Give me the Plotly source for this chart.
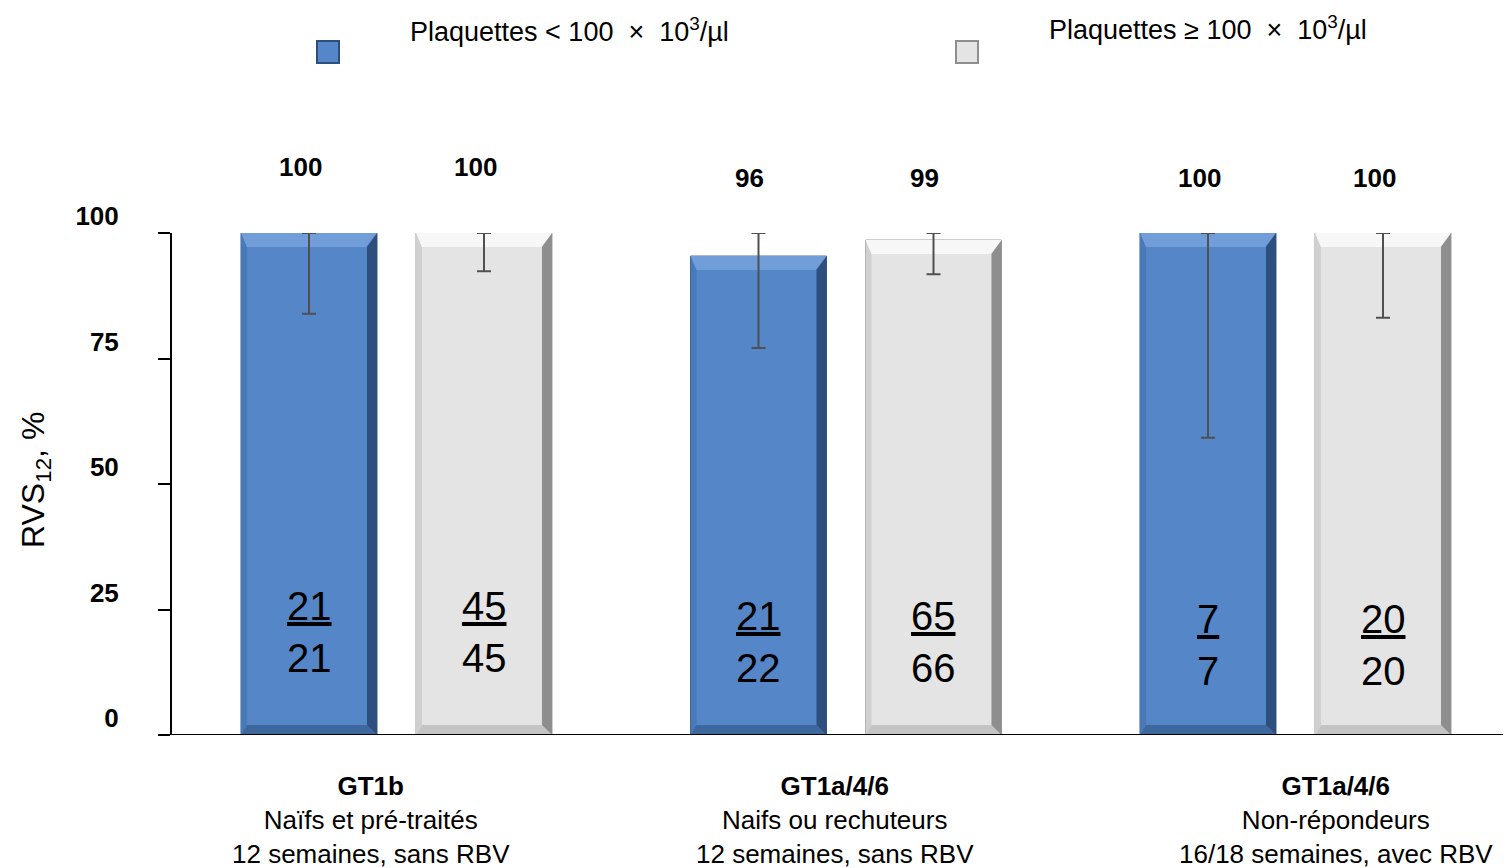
import plotly.graph_objects as go

# ---- data ----
groups = ["GT1b", "GT1a/4/6", "GT1a/4/6"]
group_sub1 = ["Naïfs et pré-traités", "Naifs ou rechuteurs", "Non-répondeurs"]
group_sub2 = ["12 semaines, sans RBV", "12 semaines, sans RBV", "16/18 semaines, avec RBV"]
series_names = ["Plaquettes < 100 \u00a0×\u00a0 10<sup>3</sup>/µl",
                "Plaquettes ≥ 100 \u00a0×\u00a0 10<sup>3</sup>/µl"]
low_values = [100, 95.4, 100]
high_values = [100, 98.6, 100]
low_labels = ["100", "96", "100"]
high_labels = ["100", "99", "100"]
low_ci_lower = [83.9, 77.1, 59.2]
high_ci_lower = [92.4, 91.8, 83.1]
ci_upper = [100, 100, 100]
low_num = [21, 21, 7]
low_den = [21, 22, 7]
high_num = [45, 65, 20]
high_den = [45, 66, 20]
y_ticks = [0, 25, 50, 75, 100]

# ---- style ----
OFF = 8                      # page body margin
W, H = 1511 - OFF, 868 - OFF
L, R, T, B = 172 - OFF, 0, 233 - OFF, 133
FONT = "Liberation Sans, Arial, sans-serif"
blue, blue_edge = "#5586C7", "#35598A"
grey, grey_edge = "#E4E4E4", "#9A9A9A"
bevel_cols = {
    blue: dict(top="#719DD9", right="#2E4F7E", bottom="#3E679E", left="#4A79B8"),
    grey: dict(top="#F7F7F7", right="#8E8E8E", bottom="#C4C4C4", left="#D0D0D0"),
}
err_col = "#505050"
value_label_y = [113.1, 111.0, 111.0]
frac_y = [20.5, 18.5, 18.0]
cat_xshift = [-26, -11, 40]

x = list(range(len(groups)))
gc = 396.5 - OFF
unit = 449.5
pw, ph = W - L - R, H - T - B
y_lo, y_hi = 0, 100
ypx = ph / (y_hi - y_lo)

bargap, bargroupgap = 0.2214, 0.223
slot = (1 - bargap) / 2
offs = [-slot / 2, slot / 2]
half_w = slot * (1 - bargroupgap) / 2

fig = go.Figure()
series = [
    (low_values, low_ci_lower, blue, blue_edge, series_names[0]),
    (high_values, high_ci_lower, grey, grey_edge, series_names[1]),
]
# bars
for vals, lo, col, edge, name in series:
    fig.add_trace(go.Bar(
        x=x, y=vals, name=name,
        marker=dict(color=col, line=dict(color=edge, width=1)),
        cliponaxis=False, showlegend=False, hoverinfo="skip",
    ))

# bevel polygons (derived from bar values)
bt, br, bb, bl = 14 / ypx, 10 / unit, 10 / ypx, 6 / unit   # top, right, bottom, left
btx = 11 / unit
for k, (vals, lo, col, edge, name) in enumerate(series):
    polys = {"top": ([], []), "right": ([], []), "bottom": ([], []), "left": ([], [])}
    for i in x:
        xc = i + offs[k]
        x0, x1, v = xc - half_w, xc + half_w, vals[i]
        parts = {
            "top": ([x0, x1, x1 - btx, x0 + bl, x0], [v, v, v - bt, v - bt, v]),
            "right": ([x1, x1, x1 - br, x1 - br, x1], [v, 0, bb, v - bt, v]),
            "bottom": ([x0, x1, x1 - br, x0 + bl, x0], [0, 0, bb, bb, 0]),
            "left": ([x0, x0, x0 + bl, x0 + bl, x0], [0, v, v - bt, bb, 0]),
        }
        for key, (px_, py_) in parts.items():
            polys[key][0].extend(px_ + [None])
            polys[key][1].extend(py_ + [None])
    for key in ["left", "bottom", "right", "top"]:
        fig.add_trace(go.Scatter(
            x=polys[key][0], y=polys[key][1], mode="lines", fill="toself",
            fillcolor=bevel_cols[col][key], line=dict(width=0),
            showlegend=False, hoverinfo="skip", cliponaxis=False))

# error bars on top
for k, (vals, lo, col, edge, name) in enumerate(series):
    fig.add_trace(go.Scatter(
        x=[i + offs[k] for i in x], y=vals, mode="markers",
        marker=dict(size=1, color="rgba(0,0,0,0)"),
        error_y=dict(type="data", symmetric=False,
                     array=[u - v for u, v in zip(ci_upper, vals)],
                     arrayminus=[v - l for v, l in zip(vals, lo)],
                     color=err_col, thickness=2, width=7),
        showlegend=False, hoverinfo="skip", cliponaxis=False))

def px(xp):
    return (xp - OFF - L) / pw
def py(yp):
    return (H - B - (yp - OFF)) / ph
def yval_paper(v):
    return (v - y_lo) / (y_hi - y_lo)

anns = []
for i in x:
    for k, (labs, nums, dens) in enumerate([(low_labels, low_num, low_den),
                                            (high_labels, high_num, high_den)]):
        xc = i + offs[k]
        anns.append(dict(x=xc, y=yval_paper(value_label_y[i]), xref="x", yref="paper",
                         yanchor="middle",
                         text=f"<b>{labs[i]}</b>", showarrow=False, xshift=-9,
                         font=dict(family=FONT, size=26, color="black")))
        anns.append(dict(x=xc, y=frac_y[i], xref="x", yref="y",
                         text=f"<u>{nums[i]}</u><br>{dens[i]}", showarrow=False,
                         font=dict(family=FONT, size=40, color="black")))
    anns.append(dict(x=i, y=0, xref="x", yref="y", yanchor="top", yshift=-34,
                     xshift=cat_xshift[i],
                     text=f"<b>{groups[i]}</b><br>{group_sub1[i]}<br>{group_sub2[i]}",
                     showarrow=False,
                     font=dict(family=FONT, size=26, color="black")))

shapes = []
for (mx, my, tx, ty), col, edge, name in [
    ((328, 52, 408, 30), blue, blue_edge, series_names[0]),
    ((967, 52, 1047, 28), grey, grey_edge, series_names[1]),
]:
    shapes.append(dict(type="rect", xref="paper", yref="paper",
                       x0=px(mx - 11), x1=px(mx + 11), y0=py(my + 11), y1=py(my - 11),
                       fillcolor=col, line=dict(color=bevel_cols[col]["right"], width=2)))
    anns.append(dict(x=px(tx), y=py(ty), xref="paper", yref="paper",
                     xanchor="left", yanchor="middle", text=name, showarrow=False,
                     font=dict(family=FONT, size=27, color="black")))

anns.append(dict(x=px(35), y=py(480), xref="paper", yref="paper",
                 xanchor="center", yanchor="middle",
                 text="RVS<sub>12</sub>, %", textangle=-90, showarrow=False,
                 font=dict(family=FONT, size=32, color="black")))

shapes.append(dict(type="line", xref="paper", yref="y", x0=px(160), x1=1, y0=0, y1=0,
                   line=dict(color="black", width=2)))

fig.update_layout(
    width=W, height=H,
    margin=dict(l=L, r=R, t=T, b=B, pad=0),
    paper_bgcolor="white", plot_bgcolor="white",
    barmode="group", bargap=bargap, bargroupgap=bargroupgap,
    annotations=anns, shapes=shapes,
    xaxis=dict(range=[-(gc - L) / unit, (W - gc) / unit], showticklabels=False,
               showgrid=False, zeroline=False, showline=False, ticks=""),
    yaxis=dict(range=[y_lo, y_hi], tickvals=y_ticks, ticktext=[f"<b>{v}</b>" for v in y_ticks],
               showgrid=False, zeroline=False, showline=True, linecolor="black", linewidth=2,
               ticks="outside", ticklen=12, tickwidth=2, tickcolor="black",
               ticklabelstandoff=34, ticklabelshift=-17,
               tickfont=dict(family=FONT, size=26, color="black")),
    font=dict(family=FONT),
    hovermode=False,
)

fig.write_html("out.html")
